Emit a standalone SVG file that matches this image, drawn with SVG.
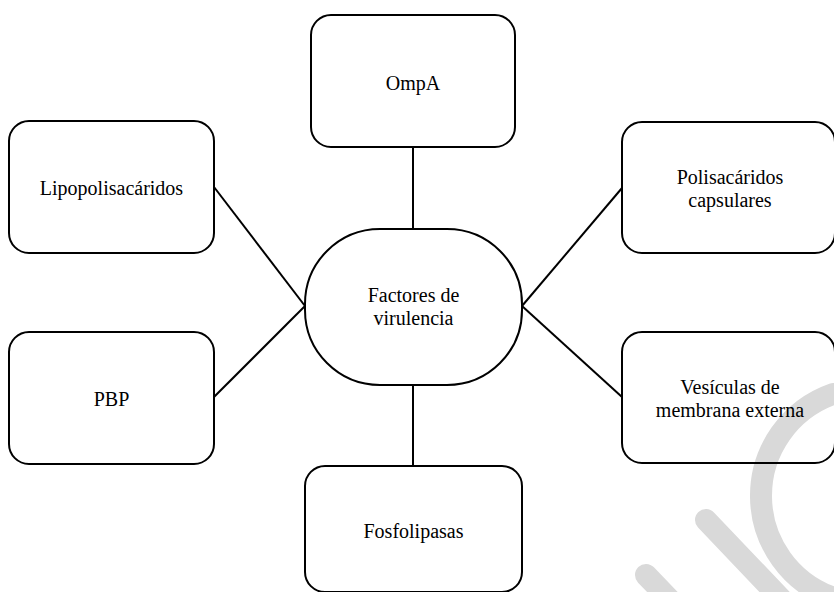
<svg xmlns="http://www.w3.org/2000/svg" width="834" height="592" viewBox="0 0 834 592">
  <style>
    .box { fill: none; stroke: #000000; stroke-width: 2; }
    .link { stroke: #000000; stroke-width: 2; fill: none; }
    .label { font-family: "Liberation Serif", "Times New Roman", serif; font-size: 20px; fill: #000000; text-anchor: middle; }
    .mark { fill: none; stroke: #d9d9d9; stroke-width: 22; stroke-linecap: round; }
  </style>

  <rect width="834" height="592" fill="#ffffff"/>

  <!-- faint background emblem, lower right (sits behind the outlines) -->
  <g id="emblem">
    <path class="mark" d="M 833 394 A 108 108 0 0 0 834 598"/>
    <line class="mark" x1="706" y1="520" x2="786" y2="604"/>
    <line class="mark" x1="646" y1="575" x2="672" y2="602"/>
  </g>

  <g id="connectors">
    <line class="link" x1="413" y1="147" x2="413" y2="229"/>
    <line class="link" x1="413" y1="385" x2="413" y2="466"/>
    <line class="link" x1="214" y1="187" x2="305" y2="306"/>
    <line class="link" x1="214" y1="397" x2="305" y2="306"/>
    <line class="link" x1="522" y1="306" x2="622" y2="188"/>
    <line class="link" x1="522" y1="306" x2="622" y2="397"/>
  </g>

  <g id="center">
    <rect class="box" x="305" y="229" width="217" height="156" rx="75" ry="75"/>
    <text class="label" x="413.5" y="302">Factores de</text>
    <text class="label" x="413.5" y="325">virulencia</text>
  </g>

  <g id="ompa">
    <rect class="box" x="311" y="15" width="204" height="132" rx="20" ry="20"/>
    <text class="label" x="413" y="90">OmpA</text>
  </g>

  <g id="lipopolisacaridos">
    <rect class="box" x="9" y="121" width="205" height="132" rx="20" ry="20"/>
    <text class="label" x="111.5" y="195">Lipopolisacáridos</text>
  </g>

  <g id="pbp">
    <rect class="box" x="9" y="332" width="205" height="132" rx="20" ry="20"/>
    <text class="label" x="111.5" y="406">PBP</text>
  </g>

  <g id="polisacaridos">
    <rect class="box" x="622" y="122" width="213" height="131" rx="20" ry="20"/>
    <text class="label" x="730" y="184">Polisacáridos</text>
    <text class="label" x="730" y="207">capsulares</text>
  </g>

  <g id="vesiculas">
    <rect class="box" x="622" y="332" width="213" height="131" rx="20" ry="20"/>
    <text class="label" x="730" y="394">Vesículas de</text>
    <text class="label" x="730" y="417">membrana externa</text>
  </g>

  <g id="fosfolipasas">
    <rect class="box" x="305" y="466" width="217" height="126" rx="20" ry="20"/>
    <text class="label" x="413.5" y="538">Fosfolipasas</text>
  </g>
</svg>
